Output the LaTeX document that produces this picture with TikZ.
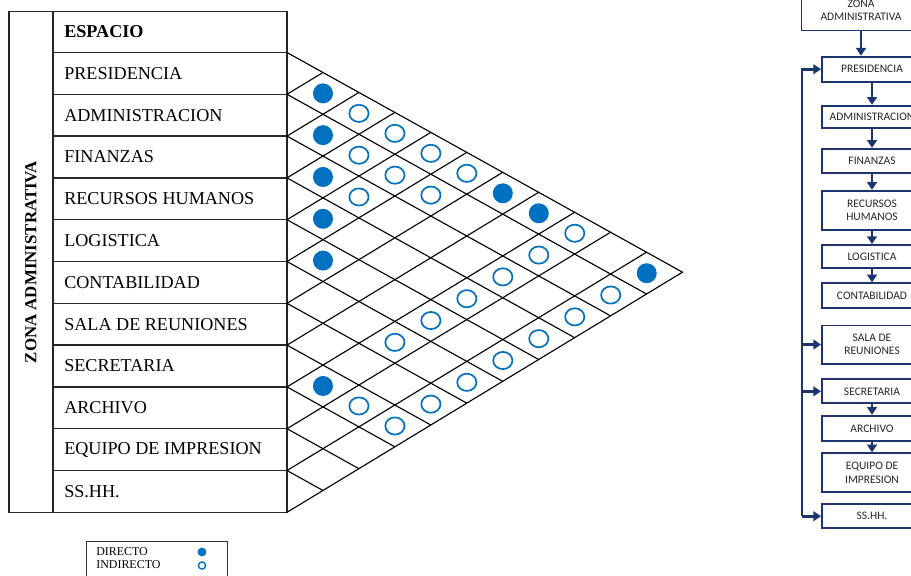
\documentclass[tikz,border=0pt]{standalone}
\usepackage{amsmath}
\usepackage{amssymb}
\usepackage{fontspec}
\setmainfont{Liberation Serif}
\newfontfamily\flowfont{Carlito}
\usetikzlibrary{arrows.meta}

\definecolor{dotblue}{RGB}{0,112,192}
\definecolor{navy}{RGB}{28,52,112}

\begin{document}
\begin{tikzpicture}[x=0.025cm,y=-0.025cm,
    tline/.style={line width=0.9pt,black!85},
    gline/.style={line width=0.8pt,black},
    item/.style={anchor=west,inner sep=0pt,font=\fontsize{12.9}{14}\selectfont},
    direct/.style={fill=dotblue},
    indirect/.style={draw=dotblue,line width=1.2pt},
    fbox/.style={draw=navy,line width=1.4pt,minimum width=2.5cm,inner sep=1pt,
        align=center,text=black!85,font=\flowfont\fontsize{8.2}{9.3}\selectfont},
    flow/.style={navy,line width=1.9pt,-{Triangle[width=7pt,length=5.5pt]}}]

    \clip (0,0) rectangle (911,575);

    % Define the row borders on the right side of the table
    \foreach \k in {0,...,11} {
        \coordinate (B\k) at (287,52.5+41.8*\k);
    }

    % Draw the table
    \draw[tline] (9,11.5) rectangle (287,512.7);
    \draw[tline] (53,11.5) -- (53,512.7);
    \foreach \k in {0,...,10} {
        \draw[tline] (53,52.5+41.8*\k) -- (B\k);
    }

    \node[item,font=\bfseries\fontsize{12.9}{14}\selectfont] (espacio) at (64,32) {ESPACIO};
    \node[rotate=90,font=\bfseries\fontsize{12}{14}\selectfont] (zona) at (31,262) {ZONA ADMINISTRATIVA};
    \foreach \i/\name in {1/PRESIDENCIA,2/ADMINISTRACION,3/FINANZAS,4/RECURSOS HUMANOS,
        5/LOGISTICA,6/CONTABILIDAD,7/SALA DE REUNIONES,8/SECRETARIA,9/ARCHIVO,
        10/EQUIPO DE IMPRESION,11/SS.HH.} {
        \node[item] (row\i) at (64,52.5+41.8*\i-20.9) {\name};
    }

    % Draw the diagonals of the matrix (both directions from every border)
    \foreach \k in {0,...,11} {
        \draw[gline] (B\k) -- ++({35.97*(11-\k)},{19.98*(11-\k)});
        \draw[gline] (B\k) -- ++({35.97*\k},{-21.84*\k});
    }

    % Mark the relations in cell (i,j)
    \foreach \i/\j in {1/2,2/3,3/4,4/5,5/6,1/7,1/8,1/11,8/9} {
        \fill[direct] ({287+35.97*(\j-\i)},{52.5+41.8*(\i-0.5)+19.98*(\j-\i)}) circle[radius=0.25cm];
    }
    \foreach \i/\j in {1/3,1/4,2/4,1/5,2/5,1/6,2/6,3/5,1/9,2/9,3/9,4/9,5/9,6/9,
        2/11,3/11,4/11,5/11,6/11,8/10,7/11,8/11} {
        \draw[indirect] ({287+35.97*(\j-\i)},{52.5+41.8*(\i-0.5)+19.98*(\j-\i)})
            ellipse[x radius=0.24cm,y radius=0.215cm];
    }

    % Legend
    \draw[line width=0.6pt,black!80] (86,541) rectangle (227,590);
    \node[anchor=west,inner sep=0pt,font=\fontsize{8.5}{10}\selectfont] (ldir) at (96,552) {DIRECTO};
    \node[anchor=west,inner sep=0pt,font=\fontsize{8.5}{10}\selectfont] (lind) at (96,565) {INDIRECTO};
    \fill[dotblue] (202,552) circle[radius=0.11cm];
    \draw[dotblue,line width=1pt] (202,565.5) circle[radius=0.09cm];

    % Flow chart on the right
    \node[fbox,minimum width=2.975cm,minimum height=1cm] (zone) at (861,10.5) {ZONA\\ADMINISTRATIVA};
    \foreach \n/\y/\h/\t in {pres/69.2/0.625/PRESIDENCIA,admin/116.8/0.55/ADMINISTRACION,
        fin/160.8/0.6/FINANZAS,rrhh/210.3/0.975/RECURSOS\\HUMANOS,log/256.5/0.575/LOGISTICA,
        cont/295.8/0.625/CONTABILIDAD,sala/344.5/0.95/SALA DE\\REUNIONES,secr/391.3/0.6/SECRETARIA,
        arch/428.3/0.625/ARCHIVO,equipo/472.8/0.975/EQUIPO DE\\IMPRESION,sshh/516.2/0.6/SS.HH.} {
        \node[fbox,minimum height=\h cm] (\n) at (872,\y) {\t};
    }

    \draw[flow] (zone.south) -- (zone.south |- pres.north);
    \foreach \a/\b in {pres/admin,admin/fin,fin/rrhh,rrhh/log,log/cont,secr/arch,arch/equipo} {
        \draw[flow] (\a) -- (\b);
    }

    \coordinate (bus) at (802,0);
    \draw[flow] (bus |- sshh.west) -- (bus |- pres.west) -- (pres.west);
    \foreach \n in {sala,secr,sshh} {
        \draw[flow] (bus |- \n.west) -- (\n.west);
    }

\end{tikzpicture}
\end{document}
